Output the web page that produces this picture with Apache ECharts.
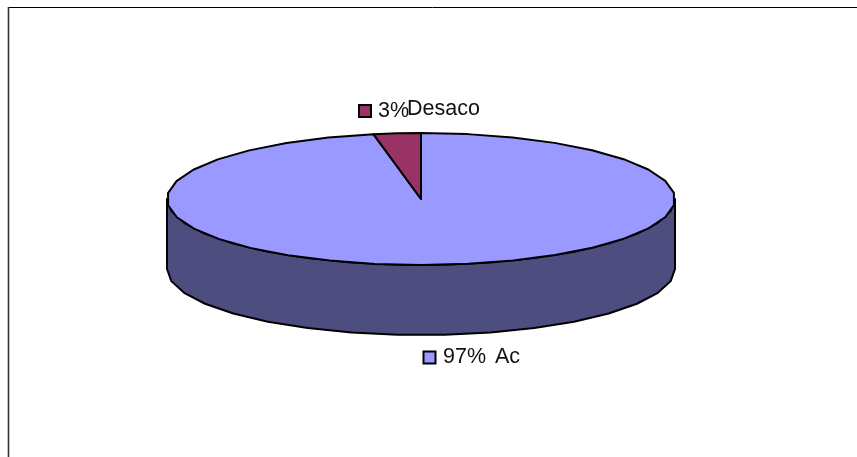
<!DOCTYPE html>
<html><head><meta charset="utf-8">
<style>html,body{margin:0;padding:0;background:#fff}#c{width:857px;height:457px}</style>
<script src="https://cdn.jsdelivr.net/npm/echarts@6/dist/echarts.min.js"></script>
</head><body><div id="c"></div>
<script>
const categories = ['Ac', 'Desaco'];
const shares = [97, 3];
const sliceColors = ['#9999FF', '#993366'];
const sideColors = ['#4D4D80', '#4D1A33'];

const cx = 421, cy = 199, rx = 254, ry = 66, depth = 70;
const labelSpots = [
  {box: [423.5, 351.5], pct: [443, 357], name: [495, 357]},
  {box: [359, 105], pct: [378, 111], name: [407, 109]}
];
const total = shares.reduce((a, b) => a + b, 0);
const STEP = Math.PI / 17;
const pt = (a, dy) => [cx + rx * Math.sin(a), cy - ry * Math.cos(a) + (dy || 0)];
function arc(a0, a1, dy) {
  const out = [];
  const n = Math.max(1, Math.ceil((a1 - a0) / STEP));
  for (let i = 0; i <= n; i++) out.push(pt(a0 + (a1 - a0) * i / n, dy));
  return out;
}
const stroke = {stroke: '#000', lineWidth: 2, lineJoin: 'round'};
const txt = (x, y, s) => ({type: 'text', x, y, style: {text: s, fill: '#111', font: '21.5px "Liberation Sans", Arial, sans-serif', textVerticalAlign: 'middle'}, z2: 10});

function renderItem(params, api) {
  const i = params.dataIndex;
  let before = 0;
  for (let k = 0; k < i; k++) before += shares[k];
  const a0 = before / total * 2 * Math.PI;
  const a1 = a0 + api.value(0) / total * 2 * Math.PI;
  const children = [];
  const s0 = Math.max(a0, Math.PI / 2), s1 = Math.min(a1, 3 * Math.PI / 2);
  if (s1 > s0) {
    children.push({type: 'polygon', shape: {points: arc(s0, s1, 0).concat(arc(s0, s1, depth).reverse())},
      style: Object.assign({fill: sideColors[i]}, stroke)});
  }
  children.push({type: 'polygon', shape: {points: [[cx, cy]].concat(arc(a0, a1, 0))},
    style: Object.assign({fill: sliceColors[i]}, stroke)});
  const L = labelSpots[i];
  children.push({type: 'rect', shape: {x: L.box[0], y: L.box[1], width: 12, height: 12},
    style: {fill: sliceColors[i], stroke: '#000', lineWidth: 2}, z2: 10});
  children.push(txt(L.pct[0], L.pct[1], api.value(0) + '%'));
  children.push(txt(L.name[0], L.name[1], categories[i]));
  return {type: 'group', children};
}

const chart = echarts.init(document.getElementById('c'), null, {renderer: 'canvas'});
chart.setOption({
  animation: false,
  backgroundColor: '#fff',
  graphic: [
    {type: 'line', shape: {x1: 8, y1: 7.5, x2: 857, y2: 7.5}, style: {stroke: '#000', lineWidth: 1}},
    {type: 'line', shape: {x1: 8.5, y1: 7, x2: 8.5, y2: 457}, style: {stroke: '#333', lineWidth: 1.6}}
  ],
  series: [{
    type: 'custom',
    coordinateSystem: 'none',
    renderItem,
    data: shares.map((v, i) => ({name: categories[i], value: [v]}))
  }]
});
</script></body></html>
